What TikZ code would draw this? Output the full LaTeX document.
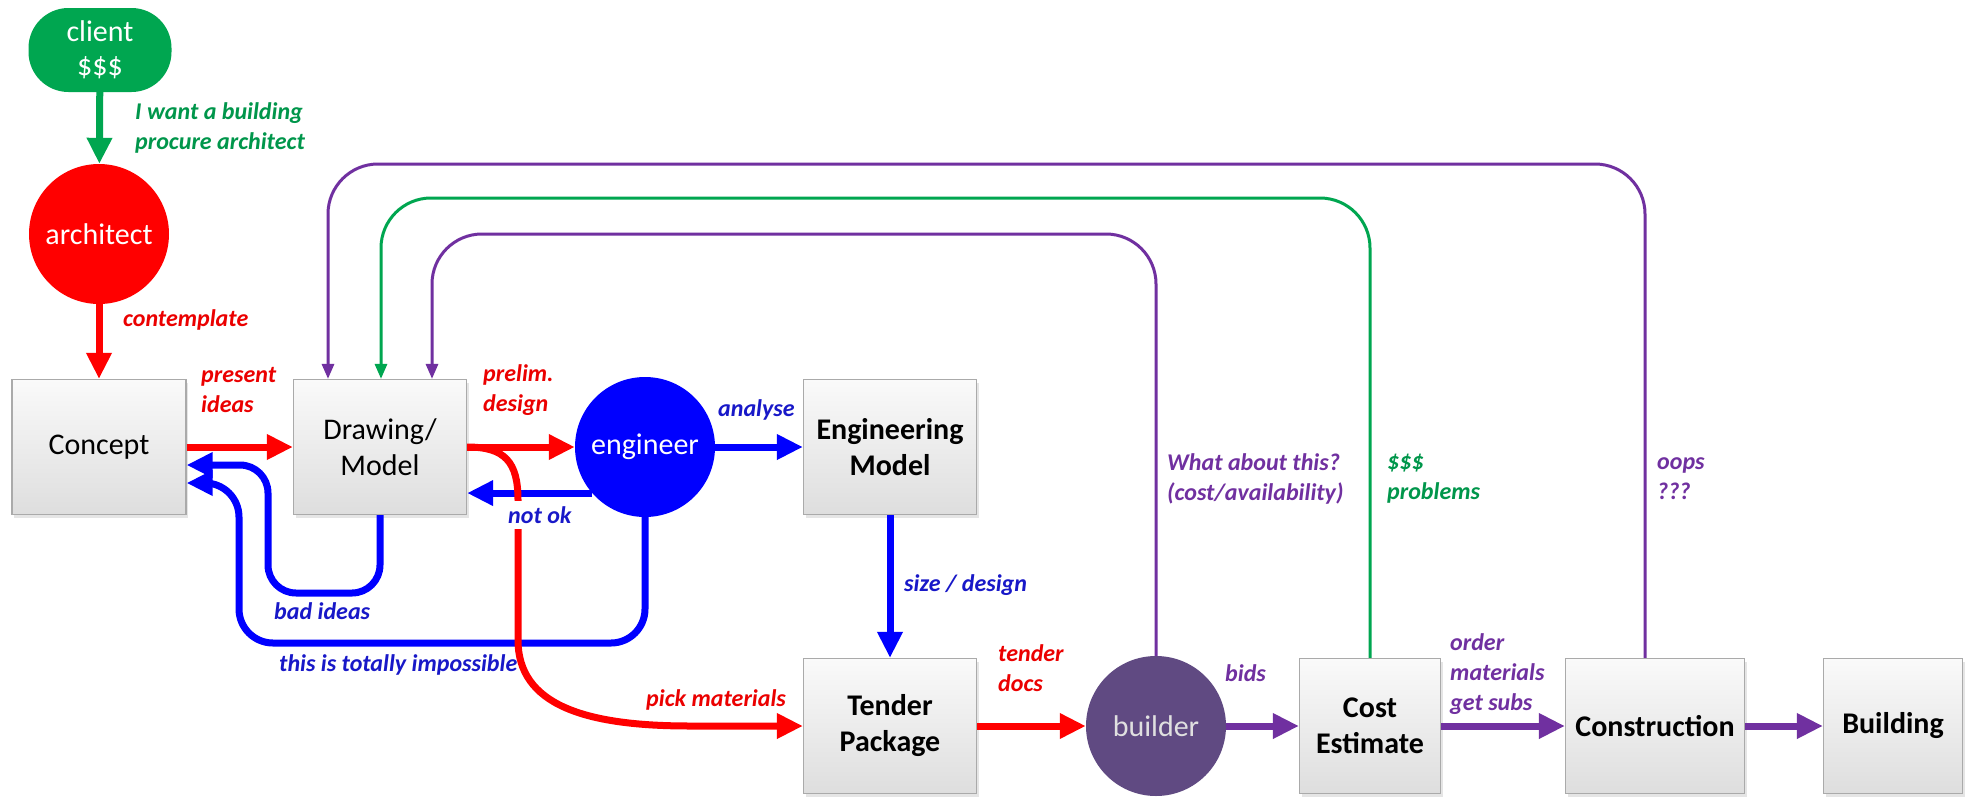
\documentclass[tikz,border=0pt]{standalone}
\usepackage{fontspec}
\setmainfont{Carlito}
\usetikzlibrary{arrows.meta,shadows}
\definecolor{cred}{RGB}{255,0,0}
\definecolor{credtxt}{RGB}{235,0,0}
\definecolor{cblue}{RGB}{0,0,255}
\definecolor{cbluetxt}{RGB}{24,24,200}
\definecolor{cgreen}{RGB}{0,166,80}
\definecolor{cgreentxt}{RGB}{0,150,75}
\definecolor{cpurple}{RGB}{112,48,160}
\definecolor{cbuilder}{RGB}{96,74,130}
\definecolor{cboxline}{RGB}{170,170,170}
\begin{document}
\begin{tikzpicture}[x=1pt,y=-1pt,
  box/.style={draw=cboxline, line width=1.2pt, top color=white!98!black, bottom color=white!87!black,
    minimum height=135pt, inner sep=0pt, align=center, font=\fontsize{30}{36}\selectfont,
    drop shadow={opacity=0.2,shadow xshift=2pt,shadow yshift=-3pt}},
  bbox/.style={font=\fontsize{30}{36}\selectfont\bfseries},
  circ/.style={circle, minimum size=140pt, inner sep=0pt, text=white, font=\fontsize{30}{36}\selectfont},
  clientbox/.style={rectangle, rounded corners=40pt, fill=cgreen, minimum width=143pt, minimum height=84pt,
    inner sep=0pt, text=white, align=center, font=\fontsize{30}{34}\selectfont},
  lbl/.style={font=\fontsize{24}{30}\selectfont\bfseries\itshape, inner sep=0pt, anchor=west, align=left},
  thk/.style={line width=7pt, -{Triangle[width=24pt,length=26pt]}},
  thn/.style={line width=3pt, -{Triangle[width=12pt,length=15pt]}}
]
\useasboundingbox (0,0) rectangle (1968,798);
\fill[white] (0,0) rectangle (1968,798);

% nodes
\node[clientbox] (client) at (100,50) {client\\\$\$\$};
\node[circ, fill=cred] (architect) at (99,234) {architect};
\node[box, minimum width=174pt] (concept) at (99,447) {Concept};
\node[box, minimum width=173pt] (drawing) at (380,447) {Drawing/\\Model};
\node[circ, fill=cblue] (engineer) at (645,447) {engineer};
\node[box, bbox, minimum width=173pt] (engmodel) at (890,447) {Engineering\\Model};
\node[box, bbox, minimum width=173pt] (tender) at (890,726) {Tender\\Package};
\node[circ, fill=cbuilder, text=white!88!black] (builder) at (1156,726) {builder};
\node[box, bbox, minimum width=141pt] (cost) at (1370,726) {Cost\\Estimate};
\node[box, bbox, minimum width=179pt] (construction) at (1655,726) {Construction};
\node[box, bbox, minimum width=139pt] (building) at (1893,726) {Building};

% feedback loops (thin)
\coordinate (t1) at (328,164);
\coordinate (t2) at (381,198);
\coordinate (t3) at (432,234);
\draw[thn, cpurple, rounded corners=50pt] ([xshift=-10pt]construction.north) |- (t1) -- ([xshift=-52pt]drawing.north);
\draw[thn, cgreen, rounded corners=50pt] (cost.north) |- (t2) -- ([xshift=1pt]drawing.north);
\draw[thn, cpurple, rounded corners=50pt] (builder.north) |- (t3) -- ([xshift=52pt]drawing.north);

% blue return loops
\coordinate (b1) at (268,593);
\coordinate (b2) at (239,643);
\draw[thk, cblue, rounded corners=28pt] (drawing.south) |- (b1) |- ([yshift=-18pt]concept.east);
\draw[thk, cblue, rounded corners=34pt] (engineer.south) |- (b2) |- ([yshift=-36pt]concept.east);
\draw[thk, cblue] (engineer.221) -- (engineer.221 -| drawing.east);

% main flow
\draw[thk, cgreen] (client) -- (architect);
\draw[thk, cred] (architect) -- (concept);
\draw[thk, cred] (concept) -- (drawing);
\draw[thk, cred] (drawing) -- (engineer);
\draw[thk, cblue] (engineer) -- (engmodel);
\draw[thk, cblue] (engmodel) -- (tender);
\draw[thk, cred] (tender) -- (builder);
\draw[thk, cpurple] (builder) -- (cost);
\draw[thk, cpurple] (cost) -- (construction);
\draw[thk, cpurple] (construction) -- (building);

% pick materials
\draw[thk, cred] (drawing.east) .. controls (505,447) and (518,462) .. (518,500) -- (518,640)
  .. controls (518,705) and (585,726) .. (690,726) -- (tender.west);

% labels
\node[lbl, text=cgreentxt] (l1) at (135,128) {I want a building\\procure architect};
\node[lbl, text=credtxt] (l2) at (123,320) {contemplate};
\node[lbl, text=credtxt] (l3) at (201,390) {present\\ideas};
\node[lbl, text=credtxt] (l4) at (483,390) {prelim.\\design};
\node[lbl, text=cbluetxt] (l5) at (718,410) {analyse};
\node[lbl, text=cbluetxt, fill=white, inner ysep=5pt] (l6) at (508,515) {not ok};
\node[lbl, text=cbluetxt] (l7) at (904,585) {size / design};
\node[lbl, text=cbluetxt] (l8) at (274,611) {bad ideas};
\node[lbl, text=cbluetxt] (l9) at (279,665) {this is totally impossible};
\node[lbl, text=credtxt] (l10) at (646,700) {pick materials};
\node[lbl, text=credtxt] (l11) at (998,668) {tender\\docs};
\node[lbl, text=cpurple] (l12) at (1225,673) {bids};
\node[lbl, text=cpurple] (l13) at (1450,674) {order\\materials\\get subs};
\node[lbl, text=cpurple] (l14) at (1167,479) {What about this?\\(cost/availability)};
\node[lbl, text=cgreentxt] (l15) at (1387,479) {\$\$\$\\problems};
\node[lbl, text=cpurple] (l16) at (1657,479) {oops\\???};
\end{tikzpicture}
\end{document}
